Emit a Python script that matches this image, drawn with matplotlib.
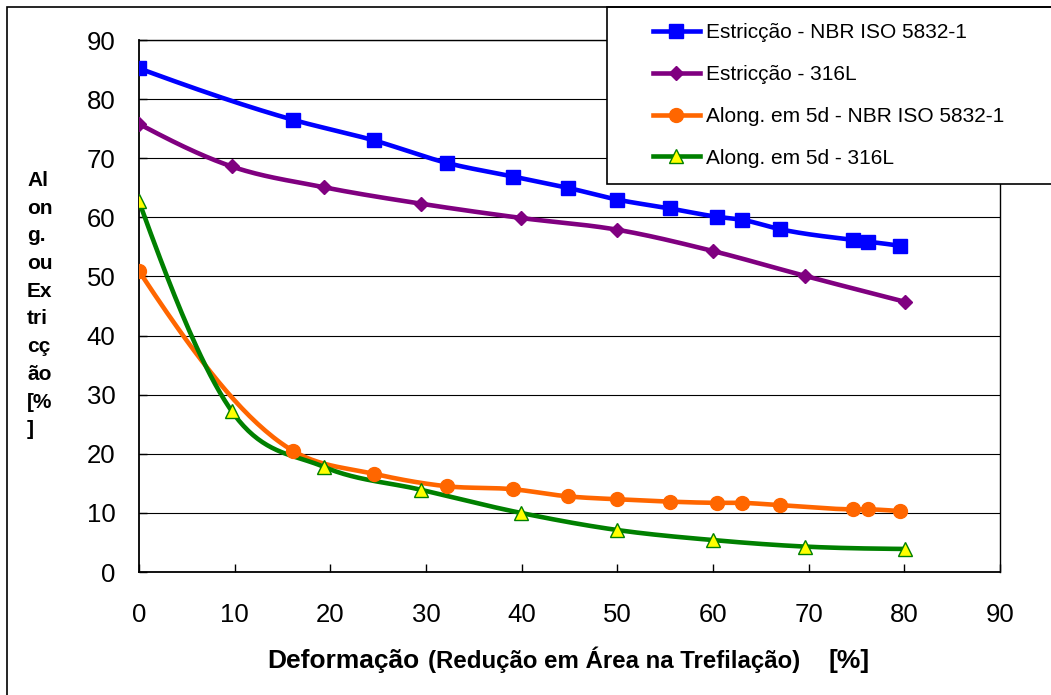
import numpy as np
import matplotlib
matplotlib.use("Agg")
import matplotlib.pyplot as plt
from matplotlib.lines import Line2D
from matplotlib.patches import Rectangle

plt.rcParams['font.family'] = ['Liberation Sans', 'DejaVu Sans']

# Deformação (%) - points for the NBR ISO 5832-1 series
x_nbr = [0, 16.1, 24.6, 32.2, 39.1, 44.8, 50.0, 55.5, 60.4, 63.0, 67.0, 74.6, 76.2, 79.5]
estr_nbr = [85.2, 76.5, 73.0, 69.2, 66.9, 65.0, 63.0, 61.5, 60.1, 59.6, 58.0, 56.2, 55.9, 55.2]
along_nbr = [50.9, 20.5, 16.6, 14.5, 14.0, 12.8, 12.3, 11.9, 11.7, 11.7, 11.3, 10.6, 10.6, 10.3]

# 316L series
x_316 = [0, 9.7, 19.3, 29.5, 39.9, 50.0, 60.0, 69.6, 80.1]
estr_316 = [75.8, 68.6, 65.1, 62.3, 59.9, 57.9, 54.3, 50.1, 45.7]
along_316 = [62.7, 27.2, 17.8, 13.9, 10.0, 7.1, 5.4, 4.3, 3.9]

labels = ["Estricção - NBR ISO 5832-1", "Estricção - 316L",
          "Along. em 5d - NBR ISO 5832-1", "Along. em 5d - 316L"]
ticks = list(range(0, 100, 10))


def smooth(x, y, n=40, end=0.6):
    # cubic hermite through the points, parabolic (bessel) slopes
    x = np.asarray(x, float)
    y = np.asarray(y, float)
    h = np.diff(x)
    d = np.diff(y) / h
    m = np.zeros_like(y)
    m[1:-1] = (h[1:] * d[:-1] + h[:-1] * d[1:]) / (h[:-1] + h[1:])
    m[0] = d[0] + end * (d[0] - d[1]) * h[0] / (h[0] + h[1])
    m[-1] = d[-1] + end * (d[-1] - d[-2]) * h[-1] / (h[-1] + h[-2])
    xs, ys = [], []
    t = np.linspace(0, 1, n)
    h00 = 2 * t**3 - 3 * t**2 + 1
    h10 = t**3 - 2 * t**2 + t
    h01 = -2 * t**3 + 3 * t**2
    h11 = t**3 - t**2
    for i in range(len(x) - 1):
        xs.append(x[i] + t * h[i])
        ys.append(h00 * y[i] + h10 * h[i] * m[i] + h01 * y[i + 1] + h11 * h[i] * m[i + 1])
    return np.concatenate(xs), np.concatenate(ys)


W, H = 1051, 695
fig = plt.figure(figsize=(W / 100, H / 100), dpi=100)
ax = fig.add_axes([139 / W, 1 - 572 / H, (1000 - 139) / W, (572 - 40) / H])

series = [
    (x_nbr, estr_nbr, dict(color='#0000FF', marker='s', ms=10.5, mfc='#0000FF', mec='#0000FF')),
    (x_316, estr_316, dict(color='#800080', marker='D', ms=7.5, mfc='#800080', mec='#800080')),
    (x_nbr, along_nbr, dict(color='#FF6600', marker='o', ms=10, mfc='#FF6600', mec='#FF6600')),
    (x_316, along_316, dict(color='#008000', marker='^', ms=10, mfc='#FFFF00', mec='#008000', mew=1)),
]

handles = []
for (xs, ys, st), lab in zip(series, labels):
    sx, sy = smooth(xs, ys)
    ax.plot(sx, sy, color=st['color'], lw=3.3, solid_capstyle='round', zorder=3)
    ax.plot(xs, ys, ls='none', marker=st['marker'], ms=st['ms'], mfc=st['mfc'],
            mec=st['mec'], mew=st.get('mew', 1), zorder=4)
    handles.append(Line2D([], [], color=st['color'], lw=3.3, marker=st['marker'],
                          ms=st['ms'], mfc=st['mfc'], mec=st['mec'], mew=st.get('mew', 1)))

ax.set_xlim(0, 90)
ax.set_ylim(0, 90)
ax.set_xticks(ticks)
ax.set_yticks(ticks)
ax.yaxis.grid(True, color='black', lw=0.8)
ax.set_axisbelow(True)
for s in ax.spines.values():
    s.set_linewidth(1.0)
    s.set_color('black')
ax.spines['left'].set_linewidth(1.3)
ax.spines['bottom'].set_linewidth(1.3)
ax.tick_params(axis='both', direction='in', length=6, width=1, labelsize=18.5)
ax.tick_params(axis='x', pad=22)
ax.tick_params(axis='y', pad=17)

# x label in three pieces with different sizes
yb = 1 - 668 / H
fig.text(267 / W, yb, "Deformação", fontsize=19, fontweight='bold', va='baseline')
fig.text(428 / W, yb, "(Redução em Área na Trefilação)", fontsize=17.3, fontweight='bold', va='baseline')
fig.text(829 / W, yb, "[%]", fontsize=19, fontweight='bold', va='baseline')

# stacked y label
fig.text(27 / W, 1 - 171 / H, "Al\non\ng.\nou\nEx\ntri\ncç\não\n[%\n]",
         fontsize=15, fontweight='bold', ha='left', va='top', linespacing=1.58)

# legend box and legend
fig.patches.append(Rectangle((607 / W, 1 - 184 / H), (1100 - 607) / W, (184 - 6.7) / H,
                             transform=fig.transFigure, facecolor='white',
                             edgecolor='black', lw=1.2, zorder=2))
fig.legend(handles, labels, loc='upper left', bbox_to_anchor=(653 / W, 1 - 23 / H),
           frameon=False, fontsize=15, handlelength=2.25, handletextpad=0.3,
           labelspacing=1.1, borderpad=0, borderaxespad=0)

# outer chart border
fig.patches.append(Rectangle((6.5 / W, -0.1), 1.2, 1 - 6.5 / H + 0.1,
                             transform=fig.transFigure, facecolor='none',
                             edgecolor='black', lw=1.2, zorder=6))

fig.savefig("out.png", dpi=100)
